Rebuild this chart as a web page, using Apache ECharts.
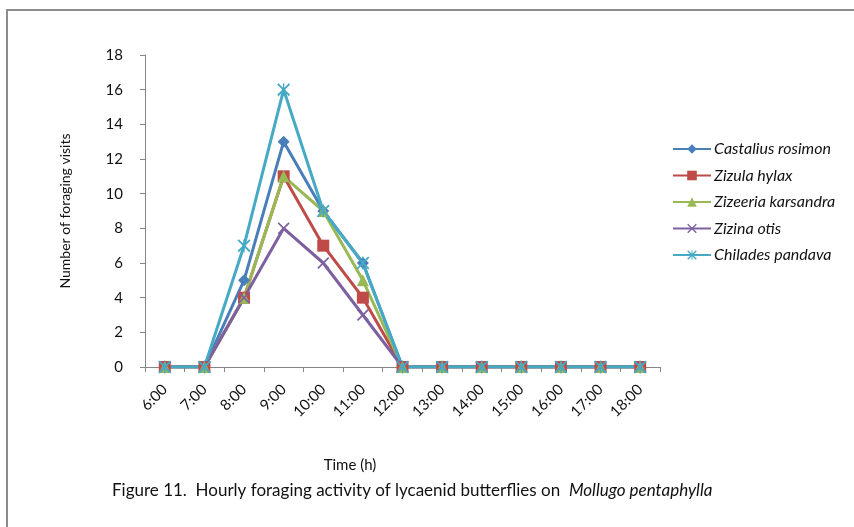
<!DOCTYPE html>
<html><head><meta charset="utf-8">
<script src="https://cdn.jsdelivr.net/npm/echarts@6/dist/echarts.min.js"></script>
<style>html,body{margin:0;padding:0;background:#fff}#c{width:854px;height:527px}</style>
</head><body><div id="c"></div>
<script>
const categories = ['6:00','7:00','8:00','9:00','10:00','11:00','12:00','13:00','14:00','15:00','16:00','17:00','18:00'];
const castalius = [0,0,5,13,9,6,0,0,0,0,0,0,0];
const zizula    = [0,0,4,11,7,4,0,0,0,0,0,0,0];
const zizeeria  = [0,0,4,11,9,5,0,0,0,0,0,0,0];
const zizina    = [0,0,4,8,6,3,0,0,0,0,0,0,0];
const chilades  = [0,0,7,16,9,6,0,0,0,0,0,0,0];
const seriesNames = ['Castalius rosimon','Zizula hylax','Zizeeria karsandra','Zizina otis','Chilades pandava'];
const seriesData = [castalius, zizula, zizeeria, zizina, chilades];
const colors = ['#4A7EBB','#BE4B48','#98B954','#7D60A0','#46AAC5'];
const xPath = 'path://M0,1 L1,0 L10,9 L9,10 Z M9,0 L10,1 L1,10 L0,9 Z';
const starPath = 'path://M0,1 L1,0 L10,9 L9,10 Z M9,0 L10,1 L1,10 L0,9 Z M4.5,0 L5.5,0 L5.5,10 L4.5,10 Z';
const symbols = ['diamond','rect','triangle',xPath,starPath];
const sizes = [12,12,12,12,13];
const font = 'Lato, "Open Sans", sans-serif';
const chart = echarts.init(document.getElementById('c'));
chart.setOption({
  animation:false,
  color: colors,
  grid:{left:145,right:194,top:55,bottom:160},
  legend:{orient:'vertical',left:667,top:136,itemWidth:38,itemHeight:12,itemGap:10.5,
    textStyle:{fontStyle:'italic',fontSize:16,color:'#111',fontFamily:font,padding:[0,0,0,-2]},
    data:seriesNames},
  xAxis:{type:'category',data:categories,boundaryGap:true,
    axisLine:{lineStyle:{color:'#868686'}},
    axisTick:{show:true,length:5,lineStyle:{color:'#868686'}},
    axisLabel:{rotate:45,fontSize:15,color:'#111',fontFamily:font,interval:0,margin:20}},
  yAxis:{type:'value',min:0,max:18,interval:2,
    name:'Number of foraging visits',nameLocation:'middle',nameGap:73,nameRotate:90,
    nameTextStyle:{fontSize:14,color:'#111',fontFamily:font},
    axisLine:{show:true,lineStyle:{color:'#868686'}},
    axisTick:{show:true,length:5,lineStyle:{color:'#868686'}},
    splitLine:{show:false},
    axisLabel:{fontSize:15,color:'#111',fontFamily:font,margin:22}},
  graphic:[
    {type:'rect',shape:{x:7,y:10,width:870,height:560},style:{fill:'none',stroke:'#8c8c8c',lineWidth:2},silent:true},
    {type:'text',x:350,y:458,style:{text:'Time (h)',fontSize:15,fill:'#111',fontFamily:font,textAlign:'center'}},
    {type:'text',left:112,top:482,style:{text:'{n|Figure 11.  Hourly foraging activity of lycaenid butterflies on  }{i|Mollugo pentaphylla}',
      rich:{n:{fontSize:17,fill:'#111',fontFamily:font},i:{fontSize:17,fill:'#111',fontStyle:'italic',fontFamily:font}}}}
  ],
  series: seriesNames.map((n,i)=>({
    name:n,type:'line',data:seriesData[i],symbol:symbols[i],symbolSize:sizes[i],
    showAllSymbol:true,
    lineStyle:{width:3,color:colors[i]},itemStyle:{color:colors[i]}
  }))
});
</script></body></html>
